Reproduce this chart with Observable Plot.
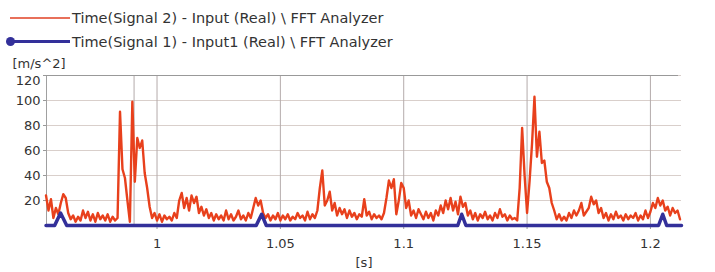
<!DOCTYPE html>
<html><head><meta charset="utf-8">
<script src="https://cdn.jsdelivr.net/npm/d3@7"></script>
<script src="https://cdn.jsdelivr.net/npm/@observablehq/plot@0.6"></script>
<style>
body{margin:0;background:#fff;font-family:"DejaVu Sans",sans-serif;}
#legend{position:relative;height:52px;width:715px;overflow:hidden;}
.txt{position:absolute;left:72px;font-size:14.5px;line-height:18px;color:#333;white-space:nowrap;}
.ln{position:absolute;}
#chart svg{display:block;}
</style></head><body>
<div id="legend"></div>
<div id="chart"></div>
<script>
// Legend entries
const seriesNames = ["Time(Signal 2) - Input (Real) \\ FFT Analyzer", "Time(Signal 1) - Input1 (Real) \\ FFT Analyzer"];
const seriesColors = ["#e8401c", "#33309a"];

// Axis info
const xMin = 0.9552, xMax = 1.2126;
const xTicks = [1, 1.05, 1.1, 1.15, 1.2];
const yTicks = [20, 40, 60, 80, 100, 120];
const cursorT = 0.9907;
const yLabel = "[m/s^2]";
const xLabel = "[s]";

// Signal 2 (red): sampled every 1 ms from 0.955 s
const redStart = 0.955, redStep = 0.001;
const redValues = [
  24,12,21,6,14, 9,18,25,22,10, 5,8,3,7,4, 12,6,11,4,9, 3,10,5,8,4,
  9,3,7,4,6, 91,45,38,20,3, 99,35,70,62,68, 42,30,15,6,10, 4,9,3,8,5,
  7,4,10,6,20, 26,14,22,12,24, 18,23,10,15,8, 13,6,10,4,9, 5,8,4,12,5,
  9,4,7,12,5, 8,4,10,6,14, 22,16,20,10,6, 9,4,8,5,10, 4,8,5,9,4,
  7,5,10,6,8, 4,11,5,9,6, 12,30,44,16,20, 27,12,18,8,14, 9,13,6,12,7,
  10,5,9,7,21, 8,11,5,9,6, 8,5,10,22,36, 30,37,9,20,34, 30,14,20,8,12,
  6,13,9,5,11, 6,10,4,12,8, 16,10,20,13,22, 12,19,9,23,15, 18,8,12,5,10,
  4,9,6,11,5, 8,4,10,6,13, 7,9,4,8,5, 6,4,30,78,40, 10,35,65,103,55,
  75,50,52,35,30, 18,12,5,9,4, 7,4,10,6,12, 8,12,18,8,11, 14,23,17,20,10,
  14,6,10,4,9, 5,11,6,8,4, 9,5,8,6,10, 4,8,5,12,6, 11,18,14,22,16,
  20,12,15,8,14, 10,12,5
];

// Signal 1 (blue): breakpoints
const blueTimes  = [0.955, 0.9585, 0.9609, 0.9634, 1.0402, 1.0424, 1.0443, 1.1219, 1.1235, 1.1252, 1.2033, 1.2050, 1.2066, 1.2126];
const blueValues = [0,     0,      10,     0,      0,      9,      0,      0,      9,      0,      0,      9,      0,      0];

const red = redValues.map((v, i) => ({t: redStart + i * redStep, v}));
const blue = blueTimes.map((t, i) => ({t, v: blueValues[i]}));

// Legend
const lg = document.getElementById("legend");
lg.innerHTML = `
  <div class="ln" style="left:10px;top:17px;width:60px;height:2px;background:#e8705a"></div>
  <div class="txt" style="top:9px">${seriesNames[0]}</div>
  <div class="ln" style="left:10px;top:40px;width:60px;height:3px;background:${seriesColors[1]}"></div>
  <div class="ln" style="left:6px;top:37px;width:9px;height:9px;border-radius:50%;background:${seriesColors[1]}"></div>
  <div class="txt" style="top:33px">${seriesNames[1]}</div>`;

const axisStyle = {tickSize: 3, tickPadding: 3, stroke: "#999", fill: "#333", label: null};

const chart = Plot.plot({
  width: 715, height: 220,
  marginLeft: 46, marginRight: 34, marginTop: 23, marginBottom: 47,
  x: {domain: [xMin, xMax]},
  y: {domain: [0, 120]},
  style: {fontFamily: "DejaVu Sans", fontSize: "13px", color: "#333", background: "#fff"},
  marks: [
    Plot.gridY(yTicks, {stroke: "#d9cfcb", strokeOpacity: 1}),
    Plot.gridX(xTicks, {stroke: "#b4abab", strokeOpacity: 1}),
    Plot.ruleX([cursorT], {stroke: "#b4abab"}),
    Plot.ruleX([xMin], {stroke: "#a0a0a0"}),
    Plot.axisY(yTicks.slice(0, -1), axisStyle),
    Plot.tickY(yTicks.slice(-1), {x1: xMin, dx: -3, stroke: "#999"}),
    Plot.axisY(yTicks.slice(-1), {...axisStyle, tickSize: 0, tickPadding: 6, dy: 5}),
    Plot.axisX(xTicks, {tickSize: 4, tickPadding: 9, stroke: "#999", fill: "#333", tickFormat: d => String(d), label: null}),
    Plot.line(red, {x: "t", y: "v", stroke: seriesColors[0], strokeWidth: 2.4}),
    Plot.line(blue, {x: "t", y: "v", stroke: seriesColors[1], strokeWidth: 3.5}),
    Plot.text([yLabel], {text: d => d, frameAnchor: "top-left", dx: -34, dy: -17, textAnchor: "start", fill: "#333"}),
    Plot.text([xLabel], {text: d => d, frameAnchor: "bottom", dy: 41, fill: "#333"})
  ]
});
document.getElementById("chart").appendChild(chart);
</script></body></html>
